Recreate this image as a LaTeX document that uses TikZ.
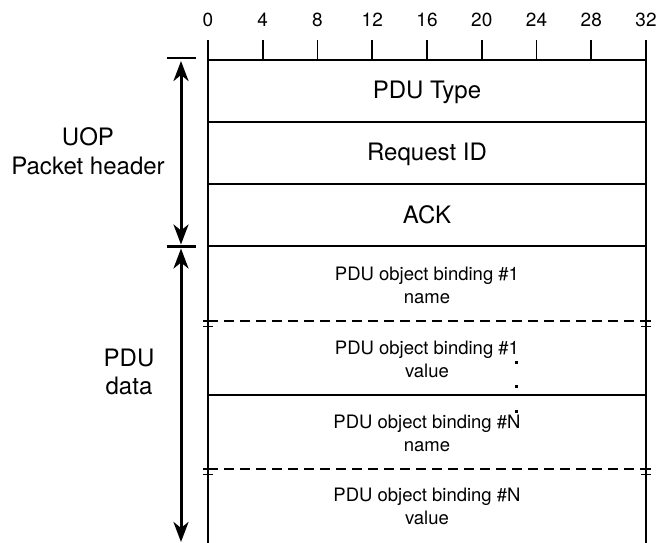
\documentclass[tikz,border=0pt]{standalone}
\usepackage{fontspec}
\setmainfont{TeX Gyre Heros}
\usetikzlibrary{arrows.meta}
\begin{document}
\begin{tikzpicture}[x=1pt,y=-1pt,
  tbl/.style={line width=1.8pt},
  dsh/.style={line width=1.8pt, dash pattern=on 10pt off 6pt},
  big/.style={font=\fontsize{24}{28.5}\selectfont, align=center, inner sep=0pt},
  small/.style={font=\fontsize{18.5}{23}\selectfont, align=center, inner sep=0pt},
  num/.style={font=\fontsize{19}{22}\selectfont, inner sep=0pt},
  dimarrow/.style={line width=3pt, {Stealth[length=20pt,width=15pt,inset=6pt]}-{Stealth[length=20pt,width=15pt,inset=6pt]}},
  bar/.style={line width=2.6pt},
  brk/.style={line width=1.4pt},
  dotmark/.style={fill=black}]
\useasboundingbox (0,0) rectangle (659,543);

% ruler ticks and numbers
\foreach \i/\n in {0/0,1/4,2/8,3/12,4/16,5/20,6/24,7/28,8/32}{
  \coordinate (t\i a) at (208+54.75*\i,40);
  \coordinate (t\i b) at (208+54.75*\i,60);
  \draw[tbl] (t\i a) -- (t\i b);
  \node[num] (n\i) at (208+54.75*\i,20) {\n};
}

% table corner coordinates
\coordinate (L60) at (208,60);   \coordinate (R60) at (646,60);
\coordinate (L122) at (208,122); \coordinate (R122) at (646,122);
\coordinate (L184) at (208,184); \coordinate (R184) at (646,184);
\coordinate (L246) at (208,246); \coordinate (R246) at (646,246);
\coordinate (L321) at (208,321); \coordinate (R321) at (646,321);
\coordinate (L395) at (208,395); \coordinate (R395) at (646,395);
\coordinate (L469) at (208,469); \coordinate (R469) at (646,469);
\coordinate (Lbot) at (208,543); \coordinate (Rbot) at (646,543);

% verticals
\draw[tbl] (L60) -- (Lbot);
\draw[tbl] (R60) -- (Rbot);
% horizontals
\draw[tbl] (L60) -- (R60);
\draw[tbl] (L122) -- (R122);
\draw[tbl] (L184) -- (R184);
\draw[tbl] (L246) -- (R246);
\draw[tbl] (L395) -- (R395);
\draw[dsh] (L321) -- (R321);
\draw[dsh] (L469) -- (R469);

% break marks
\foreach \y in {321,469}{
  \draw[brk] (203,\y) -- (213,\y);
  \draw[brk] (203,\y+5.5) -- (213,\y+5.5);
  \draw[brk] (641,\y) -- (651,\y);
  \draw[brk] (641,\y+5.5) -- (651,\y+5.5);
}

% row texts
\node[big] (pdutype) at (427,92) {PDU Type};
\node[big] (reqid) at (427,154) {Request ID};
\node[big] (ack) at (427,215) {ACK};
\node[small] (b1name) at (427,285) {PDU object binding \#1\\name};
\node[small] (b1val) at (427,359) {PDU object binding \#1\\value};
\node[small] (bNname) at (427,433) {PDU object binding \#N\\name};
\node[small] (bNval) at (427,506) {PDU object binding \#N\\value};

% ellipsis dots
\fill[dotmark] (514.5,360.5) rectangle +(3,3);
\fill[dotmark] (514.5,384.5) rectangle +(3,3);
\fill[dotmark] (514.5,409.5) rectangle +(3,3);

% left labels
\node[big] (uop) at (88,151) {UOP\\Packet header};
\node[big] (pdudata) at (129,372) {PDU\\data};

% bars
\draw[bar] (167,58) -- (196,58);
\draw[bar] (167,246.5) -- (196,246.5);

% dimension arrows
\coordinate (a1) at (181,61);
\coordinate (a2) at (181,244.5);
\coordinate (a3) at (181,248.5);
\coordinate (a4) at (181,542);
\draw[dimarrow] (a1) -- (a2);
\draw[dimarrow] (a3) -- (a4);
\end{tikzpicture}
\end{document}
